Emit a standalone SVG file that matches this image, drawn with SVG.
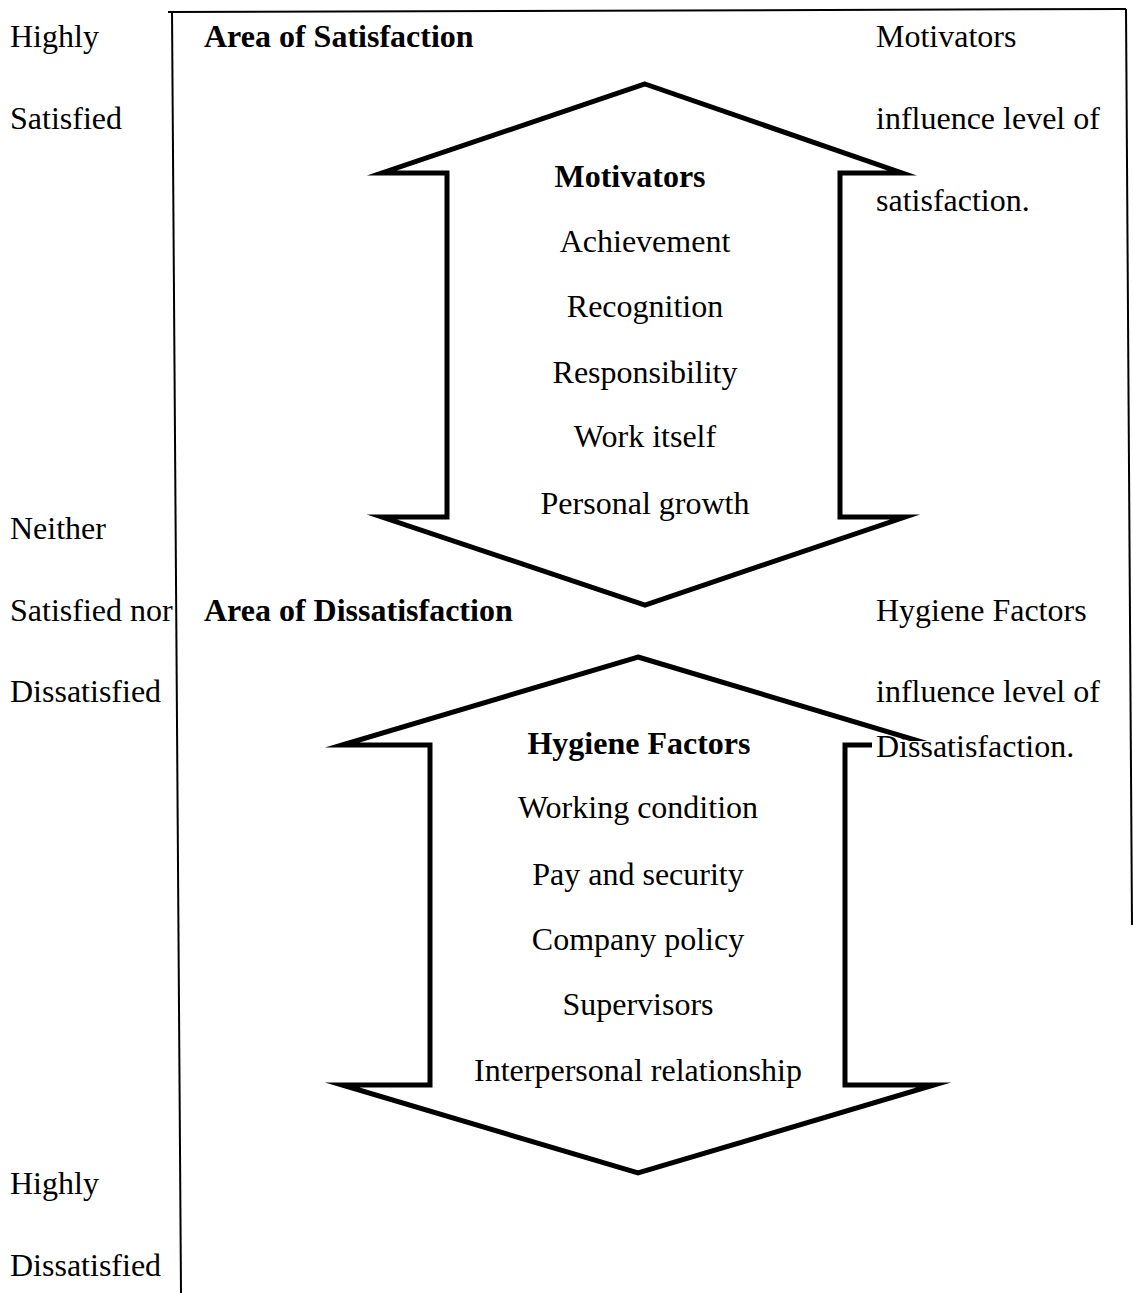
<svg xmlns="http://www.w3.org/2000/svg" width="1133" height="1293" viewBox="0 0 1133 1293">
<style>
text{font-family:"Liberation Serif","Times New Roman",serif;font-size:32px;fill:#000}
.b{font-weight:bold}
.c{text-anchor:middle}
.arrow{fill:#fff;stroke:#000;stroke-width:5;stroke-linejoin:miter;stroke-miterlimit:20}
.frame{stroke:#000;stroke-width:2;fill:none}
</style>
<rect width="1133" height="1293" fill="#fff"/>
<g id="frame">
<line class="frame" x1="168" y1="12" x2="1126" y2="9"/>
<line class="frame" x1="172" y1="11" x2="181" y2="1293"/>
<line class="frame" x1="1126" y1="9" x2="1132" y2="925"/>
</g>
<g id="scale-labels">
<text x="10" y="47">Highly</text>
<text x="10" y="129">Satisfied</text>
<text x="10" y="539">Neither</text>
<text x="10" y="621">Satisfied nor</text>
<text x="10" y="702">Dissatisfied</text>
<text x="10" y="1194">Highly</text>
<text x="10" y="1276">Dissatisfied</text>
</g>
<g id="area-satisfaction"><text class="b" x="204" y="47">Area of Satisfaction</text></g>
<g id="area-dissatisfaction"><text class="b" x="204" y="621">Area of Dissatisfaction</text></g>
<g id="motivators">
<polygon class="arrow" points="645,84 902,173 840,173 840,517 905,517 645,605 382,517 447,517 447,173 382,173"/>
<text class="b c" x="630" y="187">Motivators</text>
<text class="c" x="645" y="252">Achievement</text>
<text class="c" x="645" y="317">Recognition</text>
<text class="c" x="645" y="383">Responsibility</text>
<text class="c" x="645" y="447">Work itself</text>
<text class="c" x="645" y="514">Personal growth</text>
</g>
<g id="hygiene">
<polygon class="arrow" points="638,657 932,745 845,745 845,1085 934,1085 638,1173 342,1085 430,1085 430,745 342,745"/>
<text class="b c" x="639" y="754">Hygiene Factors</text>
<text class="c" x="638" y="818">Working condition</text>
<text class="c" x="638" y="885">Pay and security</text>
<text class="c" x="638" y="950">Company policy</text>
<text class="c" x="638" y="1015">Supervisors</text>
<text class="c" x="638" y="1081">Interpersonal relationship</text>
</g>
<g id="note-motivators">
<text x="876" y="47">Motivators</text>
<text x="876" y="129">influence level of</text>
<text x="876" y="211">satisfaction.</text>
</g>
<g id="note-hygiene">
<text x="876" y="621">Hygiene Factors</text>
<text x="876" y="702">influence level of</text>
<rect x="872" y="741" width="210" height="26" fill="#fff"/>
<text x="876" y="757">Dissatisfaction.</text>
</g>
<g id="connectors"></g>
</svg>
